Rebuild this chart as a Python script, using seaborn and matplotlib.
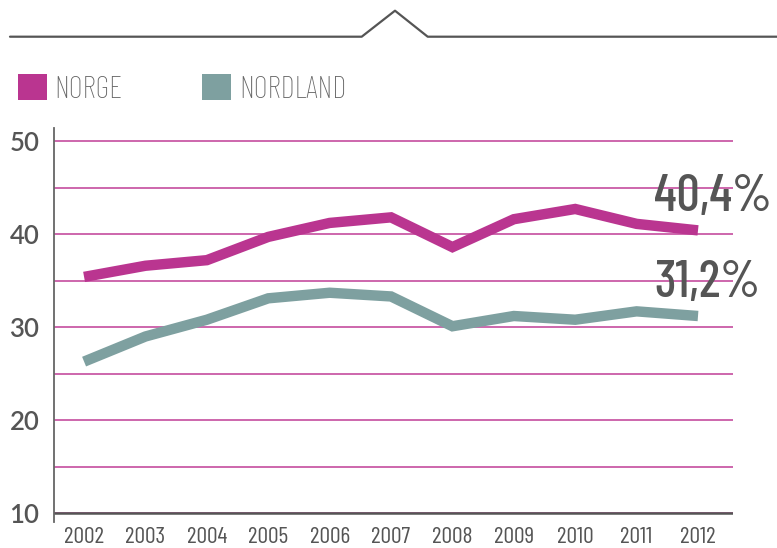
import numpy as np
import pandas as pd
import matplotlib
matplotlib.use('Agg')
import matplotlib.pyplot as plt
import seaborn as sns
from matplotlib.patches import Patch
from matplotlib.lines import Line2D
from matplotlib.ticker import MultipleLocator

# ---- data ----
years = [2002, 2003, 2004, 2005, 2006, 2007, 2008, 2009, 2010, 2011, 2012]
norge = [35.4, 36.6, 37.2, 39.7, 41.2, 41.8, 38.6, 41.6, 42.7, 41.1, 40.4]
nordland = [26.3, 29.0, 30.8, 33.1, 33.7, 33.3, 30.1, 31.2, 30.8, 31.7, 31.2]
series_names = ['NORGE', 'NORDLAND']
series_colors = ['#BA3590', '#7EA0A0']
end_labels = ['40,4%', '31,2%']
yticks = [10, 20, 30, 40, 50]

sns.set_theme(style='white')
plt.rcParams['font.family'] = ['Lato', 'DejaVu Sans']
GRAY = '#555555'
COND = ['Barlow Condensed', 'Archivo Narrow', 'DejaVu Sans']

df = pd.DataFrame({
    'year': years * 2,
    'value': norge + nordland,
    'series': [series_names[0]] * len(years) + [series_names[1]] * len(years),
})

W, H = 777, 548
fig = plt.figure(figsize=(W / 100, H / 100), dpi=100)
ax = fig.add_axes([54 / W, 1 - 521.7 / H, (733 - 54) / W, (521.7 - 128) / H])

sns.lineplot(data=df, x='year', y='value', hue='series',
             palette=dict(zip(series_names, series_colors)),
             linewidth=7.5, legend=False, ax=ax, zorder=3,
             solid_capstyle='butt', solid_joinstyle='miter')

ax.set_xlim(2001.51, 2012.57)
ax.set_ylim(9.1, 51.4)
ax.set_xlabel('')
ax.set_ylabel('')

# grid
ax.set_yticks(yticks)
ax.yaxis.set_minor_locator(MultipleLocator(5))
ax.grid(True, axis='y', which='both', color='#C95BA6', lw=1.3, zorder=1)
ax.grid(False, axis='x')
ax.axhline(10, color=GRAY, lw=1.8, zorder=2)

for s in ['top', 'right', 'bottom']:
    ax.spines[s].set_visible(False)
ax.spines['left'].set_color('#666666')
ax.spines['left'].set_linewidth(1.3)

ax.tick_params(axis='y', which='minor', length=0)
ax.tick_params(axis='y', which='major', length=7, width=1.3, color=GRAY,
               pad=3.5, labelsize=18.5, labelcolor=GRAY)
for t in ax.yaxis.get_major_ticks()[1:]:
    t.tick1line.set_visible(False)
for lab in ax.get_yticklabels():
    lab.set_fontweight('semibold')

ax.set_xticks(years)
ax.set_xticklabels([str(y) for y in years])
ax.tick_params(axis='x', length=0, pad=4, labelsize=17, labelcolor=GRAY)
for lab in ax.get_xticklabels():
    lab.set_family(COND)
    lab.set_fontweight('normal')

# end labels
for vals, lab in zip([norge, nordland], end_labels):
    ax.annotate(lab, xy=(years[-1], vals[-1]), xytext=(-44, 19),
                textcoords='offset pixels', ha='left', va='baseline',
                fontsize=37, family=COND, fontweight='medium',
                color=GRAY, zorder=4)

# legend
handles = [Patch(facecolor=c, edgecolor='none', label=n)
           for n, c in zip(series_names, series_colors)]
leg = fig.legend(handles=handles, loc='upper left',
                 bbox_to_anchor=(18 / W, 1 - 74 / H), ncol=2, frameon=False,
                 prop={'family': COND, 'size': 22, 'weight': 'light'},
                 handlelength=0.95, handleheight=0.95, handletextpad=0.25,
                 columnspacing=2.6, borderpad=0, borderaxespad=0)
for t in leg.get_texts():
    t.set_color('#666666')

# top decoration
fig.add_artist(Line2D([10 / W, 361.7 / W, 395 / W, 427.7 / W, 1.0],
                      [1 - 36.7 / H, 1 - 36.7 / H, 1 - 10.7 / H, 1 - 36.7 / H, 1 - 36.7 / H],
                      transform=fig.transFigure, color=GRAY, lw=1.6))

fig.savefig('out.png', dpi=100)
